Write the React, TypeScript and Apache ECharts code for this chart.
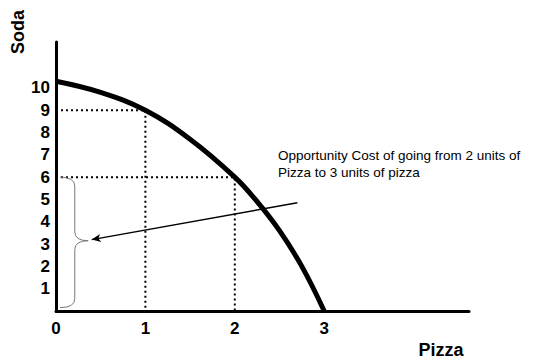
import React, { useEffect, useRef } from "react";
import * as echarts from "echarts";

// Production possibilities frontier: soda vs pizza
const ppfPizza = [0, 0.5, 1, 1.5, 2, 2.25, 2.5, 2.75, 3];
const ppfSoda = [10.3, 9.8, 9.0, 7.7, 6.0, 4.9, 3.6, 2.0, 0];

// Guide points that get dotted drop-lines to both axes
const guidePizza = [1, 2];
const guideSoda = [9, 6];

// Tick labels
const sodaTicks = [1, 2, 3, 4, 5, 6, 7, 8, 9, 10];
const pizzaTicks = [0, 1, 2, 3];

// Annotation arrow (from the note toward the brace)
const arrowFrom = [2.7, 4.85];
const arrowTo = [0.4, 3.2];

// Brace marking the soda given up between 2 and 3 pizzas
const braceSoda = [6, 0.15];
const braceTipSoda = 3.15;
const braceX = [0.045, 0.21, 0.36];

const noteLines = [
  "Opportunity Cost of going from 2 units of",
  "Pizza to 3 units of pizza",
];

const FONT = '"Liberation Sans", Arial, Helvetica, sans-serif';

export default function App() {
  const ref = useRef<HTMLDivElement>(null);

  useEffect(() => {
    if (!ref.current) return;
    const chart = echarts.init(ref.current, null, { renderer: "svg" });

    const dotted: any[] = [];
    guidePizza.forEach((p, i) => {
      const s = guideSoda[i];
      dotted.push({
        type: "line",
        data: [
          [0, s],
          [p, s],
          [p, 0],
        ],
        symbol: "none",
        silent: true,
        z: 2,
        lineStyle: { color: "#000", width: 2, type: [2, 3] },
      });
    });

    chart.setOption({
      animation: false,
      backgroundColor: "#fff",
      grid: { left: 56, right: 68, top: 42, bottom: 49 },
      xAxis: {
        type: "value",
        min: 0,
        max: 4.62,
        interval: 1,
        axisLine: { show: true, lineStyle: { color: "#000", width: 3 } },
        axisTick: { show: false },
        splitLine: { show: false },
        axisLabel: {
          margin: 9,
          color: "#000",
          fontSize: 17,
          fontWeight: "bold",
          fontFamily: FONT,
          showMaxLabel: false,
          formatter: (v: number) => (pizzaTicks.includes(v) ? String(v) : ""),
        },
      },
      yAxis: {
        type: "value",
        min: 0,
        max: 12.06,
        interval: 1,
        axisLine: { show: true, lineStyle: { color: "#000", width: 3 } },
        axisTick: { show: false },
        splitLine: { show: false },
        axisLabel: {
          margin: 6,
          color: "#000",
          fontSize: 17,
          fontWeight: "bold",
          fontFamily: FONT,
          showMaxLabel: false,
          formatter: (v: number) => (sodaTicks.includes(v) ? String(v) : ""),
        },
      },
      series: [
        ...dotted,
        {
          type: "line",
          data: ppfPizza.map((p, i) => [p, ppfSoda[i]]),
          symbol: "none",
          smooth: 0.4,
          silent: true,
          z: 4,
          lineStyle: { color: "#000", width: 5 },
        },
        {
          type: "line",
          data: [],
          silent: true,
          z: 5,
          markLine: {
            silent: true,
            symbol: ["none", "arrow"],
            symbolSize: [6, 9],
            label: { show: false },
            lineStyle: { color: "#000", width: 1.5, type: "solid" },
            data: [[{ coord: arrowFrom }, { coord: arrowTo }]],
          },
        },
        {
          type: "custom",
          silent: true,
          z: 3,
          data: [[braceX[1], braceTipSoda]],
          renderItem: (_params: any, api: any) => {
            const top = api.coord([braceX[0], braceSoda[0]]);
            const bot = api.coord([braceX[0], braceSoda[1]]);
            const spine = api.coord([braceX[1], braceTipSoda]);
            const tip = api.coord([braceX[2], braceTipSoda]);
            const x0 = top[0];
            const xs = spine[0];
            const xt = tip[0];
            const yT = top[1];
            const yB = bot[1];
            const yM = tip[1];
            const r = 9;
            const d =
              `M${x0},${yT} Q${xs},${yT} ${xs},${yT + r} ` +
              `L${xs},${yM - r} Q${xs},${yM} ${xt},${yM} ` +
              `Q${xs},${yM} ${xs},${yM + r} ` +
              `L${xs},${yB - r} Q${xs},${yB} ${x0},${yB}`;
            return {
              type: "path",
              shape: { pathData: d },
              style: { stroke: "#777", fill: "none", lineWidth: 1 },
            };
          },
        },
      ],
      graphic: [
        {
          type: "text",
          x: 18,
          y: 32,
          rotation: Math.PI / 2,
          style: {
            text: "Soda",
            font: `bold 18px ${FONT}`,
            fill: "#000",
            align: "center",
            verticalAlign: "middle",
          },
        },
        {
          type: "text",
          x: 441,
          y: 350,
          style: {
            text: "Pizza",
            font: `bold 18px ${FONT}`,
            fill: "#000",
            align: "center",
            verticalAlign: "middle",
          },
        },
        {
          type: "text",
          x: 278,
          y: 155,
          style: {
            text: noteLines[0],
            font: `13.5px ${FONT}`,
            fill: "#000",
            align: "left",
            verticalAlign: "middle",
          },
        },
        {
          type: "text",
          x: 278,
          y: 172,
          style: {
            text: noteLines[1],
            font: `13.5px ${FONT}`,
            fill: "#000",
            align: "left",
            verticalAlign: "middle",
          },
        },
      ],
    });

    return () => chart.dispose();
  }, []);

  return (
    <div
      ref={ref}
      style={{ position: "absolute", left: 0, top: 0, width: 537, height: 360 }}
    />
  );
}
